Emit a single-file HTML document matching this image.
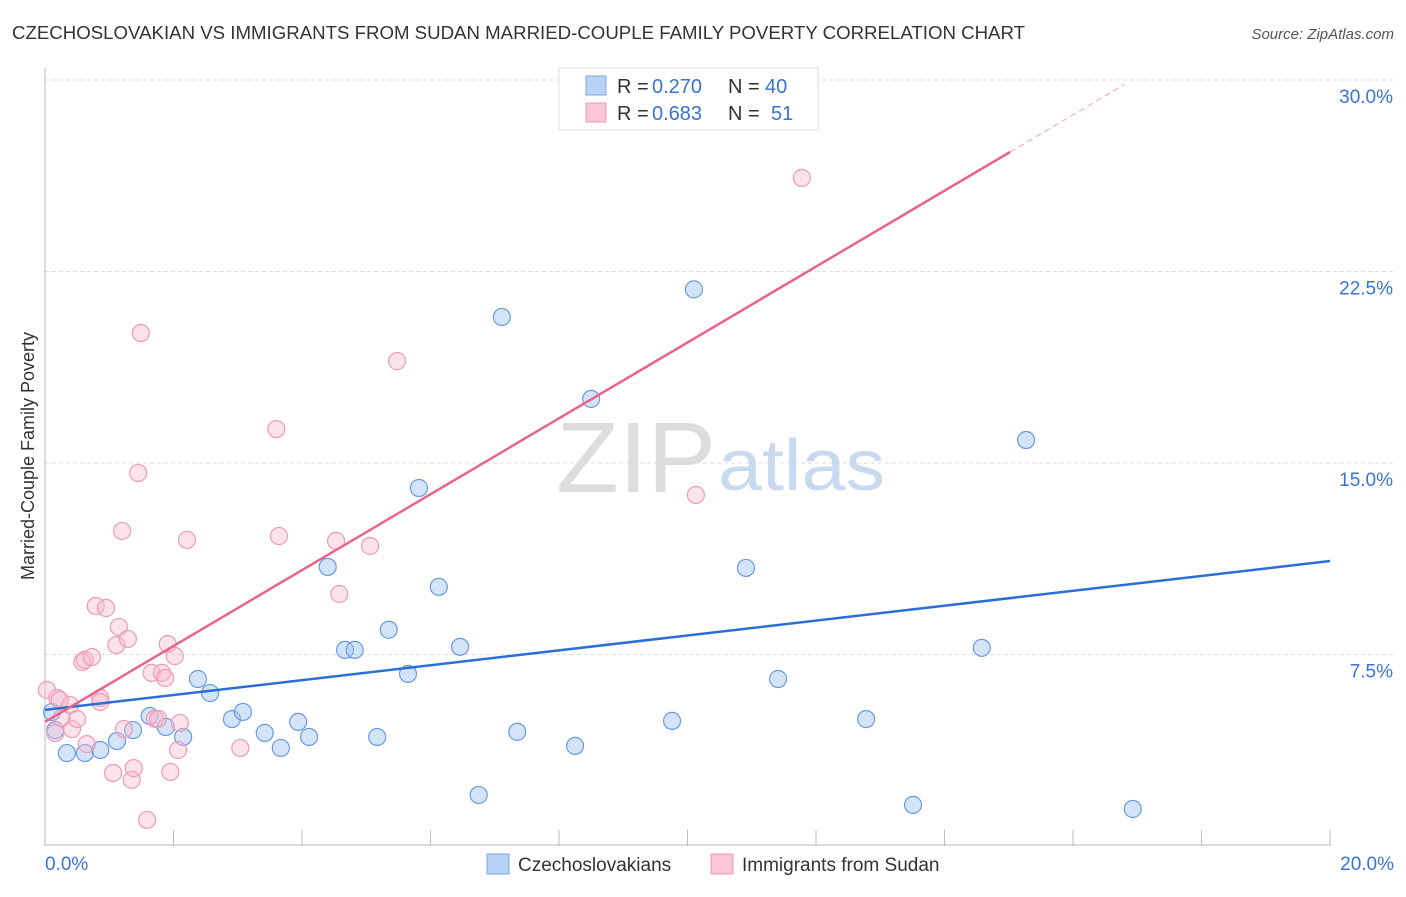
<!DOCTYPE html>
<html><head><meta charset="utf-8"><style>
body{margin:0;background:#fff;font-family:"Liberation Sans",sans-serif;}
svg text{font-family:"Liberation Sans",sans-serif;}
</style></head><body>
<svg id="chart" width="1406" height="892">
<text x="12" y="39" font-size="18" fill="#333" textLength="1013" lengthAdjust="spacingAndGlyphs">CZECHOSLOVAKIAN VS IMMIGRANTS FROM SUDAN MARRIED-COUPLE FAMILY POVERTY CORRELATION CHART</text>
<text x="1394" y="39" font-size="15" fill="#555" font-style="italic" text-anchor="end">Source: ZipAtlas.com</text>
<text x="34" y="456" font-size="18" fill="#333" text-anchor="middle" transform="rotate(-90 34 456)">Married-Couple Family Poverty</text>
<g id="grid"></g>
<line x1="45" y1="68" x2="45" y2="846" stroke="#bbb"/>
<line x1="45" y1="845" x2="1330" y2="845" stroke="#bbb"/>
<text x="716" y="492" font-size="100" fill="#ddd" text-anchor="end" font-family="Liberation Serif" textLength="160" lengthAdjust="spacingAndGlyphs">ZIP</text>
<text x="718" y="490" font-size="72" fill="#c9daf0" textLength="167" lengthAdjust="spacingAndGlyphs">atlas</text>
<g id="points"></g>
<g id="lines"></g>
<text x="45" y="870" font-size="19" fill="#3a74d0">0.0%</text>
<text x="1394" y="870" font-size="19" fill="#3a74d0" text-anchor="end">20.0%</text>
<g>
<rect x="559" y="68" width="259" height="62" fill="#fff" stroke="#ddd"/>
<rect x="586" y="76" width="20" height="19" fill="#b8d2f5" stroke="#7aa5e0"/>
<rect x="586" y="103" width="20" height="19" fill="#fac6d6" stroke="#f09ab5"/>
<text x="617" y="93" font-size="20" fill="#333">R =</text>
<text x="652" y="93" font-size="20" fill="#3a74d0">0.270</text>
<text x="728" y="93" font-size="20" fill="#333">N =</text>
<text x="765" y="93" font-size="20" fill="#3a74d0">40</text>
<text x="617" y="120" font-size="20" fill="#333">R =</text>
<text x="652" y="120" font-size="20" fill="#3a74d0">0.683</text>
<text x="728" y="120" font-size="20" fill="#333">N =</text>
<text x="771" y="120" font-size="20" fill="#3a74d0">51</text>
</g>
<g>
<rect x="487" y="854" width="22" height="20" fill="#b8d2f5" stroke="#7aa5e0"/>
<text x="518" y="871" font-size="19" fill="#333">Czechoslovakians</text>
<rect x="711" y="854" width="22" height="20" fill="#fac6d6" stroke="#f09ab5"/>
<text x="742" y="871" font-size="19" fill="#333">Immigrants from Sudan</text>
</g>
</svg>
<script>
const yTicks=[7.5,15,22.5,30];
const yTickLabels=["7.5%","15.0%","22.5%","30.0%"];
const xTicks=[0,2,4,6,8,10,12,14,16,18,20];
const blueX=[0.11,0.16,0.34,0.62,0.86,1.12,1.37,1.63,1.88,2.15,2.38,2.57,2.91,3.08,3.42,3.67,3.94,4.11,4.40,4.67,4.82,5.17,5.35,5.65,5.82,6.13,6.46,6.75,7.11,7.35,8.25,8.50,9.76,10.10,10.91,11.41,12.78,13.51,14.58,15.27,16.93];
const blueY=[5.25,4.54,3.64,3.64,3.76,4.11,4.54,5.09,4.66,4.27,6.54,5.99,4.97,5.25,4.43,3.84,4.86,4.27,10.93,7.68,7.68,4.27,8.47,6.74,14.02,10.15,7.80,2.00,20.72,4.47,3.92,17.51,4.90,21.80,10.89,6.54,4.97,1.61,7.76,15.90,1.45];
const pinkX=[0.03,0.16,0.19,0.26,0.39,0.42,0.50,0.58,0.62,0.65,0.73,0.79,0.86,0.95,1.06,1.11,1.15,1.20,1.23,1.29,1.35,1.38,1.45,1.49,1.59,1.66,1.71,1.82,1.87,1.91,1.95,2.02,2.07,2.10,2.21,3.04,3.60,3.64,4.53,4.58,5.06,5.48,10.13,11.78,1.76,0.23,0.86];
const pinkY=[6.11,4.43,5.80,5.01,5.52,4.58,4.97,7.21,7.29,3.99,7.40,9.40,5.80,9.32,2.86,7.87,8.58,12.34,4.58,8.11,2.59,3.05,14.61,20.09,1.02,6.78,4.98,6.78,6.58,7.91,2.90,7.44,3.76,4.82,11.99,3.84,16.33,12.14,11.95,9.87,11.75,18.99,13.75,26.166,4.98,5.72,5.64];
const blueLine=[5.33,11.16];
const pinkLine=[4.86,1.486];
const pinkSolidEnd=15.02, pinkDashEnd=16.8;
const ns="http://www.w3.org/2000/svg";
const X=v=>45+v/20*1285, Y=v=>846-v/30*766;
function mk(tag,attrs,parent){const e=document.createElementNS(ns,tag);for(const k in attrs)e.setAttribute(k,attrs[k]);parent.appendChild(e);return e;}
const grid=document.getElementById('grid');
yTicks.forEach((t,i)=>{
 const l=mk('line',{x1:45,x2:1394,y1:Y(t),y2:Y(t),stroke:'#ddd','stroke-dasharray':'4,3'},grid);
 
 
 const tx=mk('text',{x:1393,y:Y(t)+23,'font-size':19,fill:'#3a74d0','text-anchor':'end'},grid);
 tx.textContent=yTickLabels[i];
 
 
});
xTicks.forEach(t=>{
 const l=mk('line',{x1:X(t),x2:X(t),y1:830,y2:846,stroke:'#bbb'},grid);
 
 
});
const pts=document.getElementById('points');
blueX.forEach((x,i)=>{
 const c=mk('circle',{cx:X(x),cy:Y(blueY[i]),r:8.5,fill:'rgba(160,195,240,0.45)',stroke:'#6a9ae0','stroke-width':1.2},pts);
 
 
});
pinkX.forEach((x,i)=>{
 const c=mk('circle',{cx:X(x),cy:Y(pinkY[i]),r:8.5,fill:'rgba(248,185,205,0.4)',stroke:'#ee9ab5','stroke-width':1.2},pts);
 
 
});
const ln=document.getElementById('lines');
const bl=mk('line',{x1:X(0),y1:Y(blueLine[0]),x2:X(20),y2:Y(blueLine[1]),stroke:'#2a6fd6','stroke-width':2.5},ln);


const pl=mk('line',{x1:X(0),y1:Y(pinkLine[0]),x2:X(pinkSolidEnd),y2:Y(pinkLine[0]+pinkLine[1]*pinkSolidEnd),stroke:'#e8648f','stroke-width':2.5},ln);


const pd=mk('line',{x1:X(pinkSolidEnd),y1:Y(pinkLine[0]+pinkLine[1]*pinkSolidEnd),x2:X(pinkDashEnd),y2:Y(pinkLine[0]+pinkLine[1]*pinkDashEnd),stroke:'#f0a0b8','stroke-width':1,'stroke-dasharray':'6,4'},ln);


</script>
</body></html>
